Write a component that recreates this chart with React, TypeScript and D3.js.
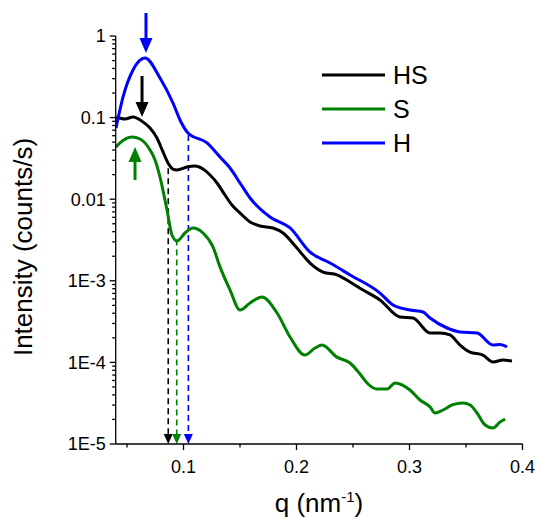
import React from 'react';
import { scaleLinear, scaleLog, line, curveMonotoneX } from 'd3';

// q in nm^-1, intensity in counts/s
const qHS = [0.0403, 0.0483, 0.0553, 0.0642, 0.0704, 0.0765, 0.0819, 0.0863, 0.0907, 0.0942, 0.1031, 0.1102, 0.1173, 0.1235, 0.1297, 0.1367, 0.1429, 0.15, 0.1589, 0.1677, 0.1792, 0.1881, 0.2004, 0.212, 0.2235, 0.2358, 0.2474, 0.2589, 0.2739, 0.2916, 0.3031, 0.3182, 0.327, 0.3358, 0.3447, 0.3535, 0.365, 0.3739, 0.3827, 0.3907];
const iHS = [0.1017, 0.0961, 0.1017, 0.0883, 0.0746, 0.0562, 0.0379, 0.0278, 0.0234, 0.0228, 0.0248, 0.0255, 0.0234, 0.0198, 0.0158, 0.01125, 0.00849, 0.00678, 0.00526, 0.0047, 0.00444, 0.00385, 0.00252, 0.00165, 0.00128, 0.00118, 9.67e-4, 7.71e-4, 5.82e-4, 3.6e-4, 3.5e-4, 2.29e-4, 2.29e-4, 2.17e-4, 1.63e-4, 1.34e-4, 1.23e-4, 1.01e-4, 1.07e-4, 1.04e-4];

const qS = [0.0403, 0.0438, 0.0544, 0.0615, 0.0704, 0.0748, 0.0792, 0.0854, 0.0898, 0.0942, 0.1013, 0.1084, 0.1173, 0.1261, 0.1323, 0.1412, 0.15, 0.1589, 0.1695, 0.1828, 0.1943, 0.2075, 0.2164, 0.2226, 0.2358, 0.2474, 0.2562, 0.2624, 0.2713, 0.2801, 0.2872, 0.3004, 0.3093, 0.3182, 0.3226, 0.3297, 0.3377, 0.3474, 0.3536, 0.3598, 0.3669, 0.3739, 0.3801, 0.3846];
const iS = [0.0436, 0.0489, 0.0578, 0.0547, 0.0401, 0.0302, 0.0187, 0.00738, 0.00364, 0.00308, 0.00385, 0.00444, 0.00385, 0.0026, 0.00148, 7.71e-4, 4.39e-4, 5.35e-4, 6.33e-4, 4.03e-4, 2.05e-4, 1.23e-4, 1.5e-4, 1.63e-4, 1.16e-4, 9.84e-5, 7.21e-5, 5.6e-5, 4.72e-5, 4.72e-5, 5.6e-5, 4.59e-5, 3.46e-5, 2.84e-5, 2.4e-5, 2.61e-5, 3.01e-5, 3.18e-5, 3.01e-5, 2.4e-5, 1.71e-5, 1.57e-5, 1.86e-5, 2.02e-5];

const qH = [0.0403, 0.0465, 0.0553, 0.0659, 0.0792, 0.0907, 0.0969, 0.104, 0.1208, 0.1323, 0.1412, 0.15, 0.1589, 0.1766, 0.1943, 0.212, 0.2297, 0.2474, 0.2739, 0.2854, 0.3005, 0.312, 0.3182, 0.3333, 0.3448, 0.3598, 0.3739, 0.3801, 0.3863];
const iH = [0.0746, 0.179, 0.383, 0.537, 0.306, 0.151, 0.0935, 0.0648, 0.0489, 0.0329, 0.0241, 0.0158, 0.01035, 0.00605, 0.00444, 0.00225, 0.00165, 0.00118, 7.08e-4, 5.05e-4, 4.39e-4, 4.15e-4, 3.5e-4, 2.64e-4, 2.36e-4, 2.29e-4, 1.63e-4, 1.66e-4, 1.55e-4];

const seriesNames = ['HS', 'S', 'H'];
const seriesColors = ['#000000', '#008000', '#0000ff'];

// peak arrows: q, tail intensity, tip intensity
const arrowQ = [0.0633, 0.0571, 0.0668];
const arrowFrom = [0.323, 0.0172, 1.915];
const arrowTo = [0.1017, 0.0436, 0.619];

// dashed minimum markers: q, intensity where the dash starts
const minQ = [0.0865, 0.094, 0.1043];
const minI = [0.024, 0.0032, 0.061];

const xMajor = [0.1, 0.2, 0.3, 0.4];
const xMinor = [0.05, 0.15, 0.25, 0.35];
const yMajor = [1, 0.1, 0.01, 1e-3, 1e-4, 1e-5];
const yLabels = ['1', '0.1', '0.01', '1E-3', '1E-4', '1E-5'];

const W = 536, H = 519;
const m = { left: 115.7, right: 13.5, top: 36, bottom: 75 };
const font = 'Arial, "Liberation Sans", sans-serif';

export default function App() {
  const x = scaleLinear().domain([0.04, 0.4]).range([m.left, W - m.right]);
  const y = scaleLog().domain([1e-5, 1]).range([H - m.bottom, m.top]);
  const x0 = m.left, y0 = H - m.bottom;

  const yMinor: number[] = [];
  for (let e = -5; e < 0; e++) for (let k = 2; k <= 9; k++) yMinor.push(k * Math.pow(10, e));

  const path = line<[number, number]>().x(d => x(d[0])).y(d => y(d[1])).curve(curveMonotoneX);
  const data = [
    qHS.map((q, i) => [q, iHS[i]] as [number, number]),
    qS.map((q, i) => [q, iS[i]] as [number, number]),
    qH.map((q, i) => [q, iH[i]] as [number, number]),
  ];

  return (
    <svg width={W} height={H} style={{ position: 'fixed', left: 0, top: 0, background: '#fff' }} fontFamily={font}>
      <defs>
        <clipPath id="plot">
          <rect x={x0} y={m.top - 2} width={W - m.right - x0} height={y0 - m.top + 2} />
        </clipPath>
      </defs>

      {/* dashed minimum markers */}
      {minQ.map((q, i) => {
        const px = x(q);
        return (
          <g key={'min' + i} stroke={seriesColors[i]} fill={seriesColors[i]}>
            <line x1={px} x2={px} y1={y(minI[i])} y2={y0 - 8} strokeWidth={1.6} strokeDasharray="6,4" />
            <path d={`M${px - 4.5},${y0 - 10}L${px + 4.5},${y0 - 10}L${px},${y0}Z`} stroke="none" />
          </g>
        );
      })}

      <g clipPath="url(#plot)" fill="none" strokeWidth={3} strokeLinejoin="round">
        {data.map((d, i) => (
          <path key={seriesNames[i]} d={path(d) || ''} stroke={seriesColors[i]} />
        ))}
      </g>

      {/* peak arrows */}
      {arrowQ.map((q, i) => {
        const px = x(q), a = y(arrowFrom[i]), b = y(arrowTo[i]);
        const dir = b > a ? 1 : -1;
        const head = 15, hw = 6.5;
        return (
          <g key={'arr' + i} fill={seriesColors[i]} stroke={seriesColors[i]}>
            <line x1={px} x2={px} y1={a} y2={b - dir * head} strokeWidth={3} />
            <path d={`M${px - hw},${b - dir * head}L${px + hw},${b - dir * head}L${px},${b}Z`} stroke="none" />
          </g>
        );
      })}

      {/* axes */}
      <g stroke="#000" strokeWidth={1.3}>
        <line x1={x0} x2={x0} y1={m.top} y2={y0} />
        <line x1={x0} x2={W - m.right} y1={y0} y2={y0} />
        {xMajor.map(t => <line key={'xM' + t} x1={x(t)} x2={x(t)} y1={y0} y2={y0 + 6} />)}
        {xMinor.map(t => <line key={'xm' + t} x1={x(t)} x2={x(t)} y1={y0} y2={y0 + 3.5} />)}
        {yMajor.map(t => <line key={'yM' + t} x1={x0 - 6} x2={x0} y1={y(t)} y2={y(t)} />)}
        {yMinor.map(t => <line key={'ym' + t} x1={x0 - 3.5} x2={x0} y1={y(t)} y2={y(t)} />)}
      </g>
      <g fontSize={18} fill="#000">
        {xMajor.map(t => (
          <text key={'xl' + t} x={x(t)} y={y0 + 29} textAnchor="middle">{String(t)}</text>
        ))}
        {yMajor.map((t, i) => (
          <text key={'yl' + t} x={x0 - 10} y={y(t)} dy="0.35em" textAnchor="end">{yLabels[i]}</text>
        ))}
      </g>
      <text x={319} y={512} fontSize={26} textAnchor="middle">
        q (nm<tspan fontSize={15} dy={-10}>-1</tspan><tspan dy={10}>)</tspan>
      </text>
      <text transform="translate(32,247) rotate(-90)" fontSize={26} textAnchor="middle">Intensity (counts/s)</text>

      {/* legend */}
      {seriesNames.map((s, i) => (
        <g key={'lg' + s}>
          <line x1={322} x2={385} y1={75 + i * 34} y2={75 + i * 34} stroke={seriesColors[i]} strokeWidth={3} />
          <text x={393} y={75 + i * 34 + 9} fontSize={25}>{s}</text>
        </g>
      ))}
    </svg>
  );
}
